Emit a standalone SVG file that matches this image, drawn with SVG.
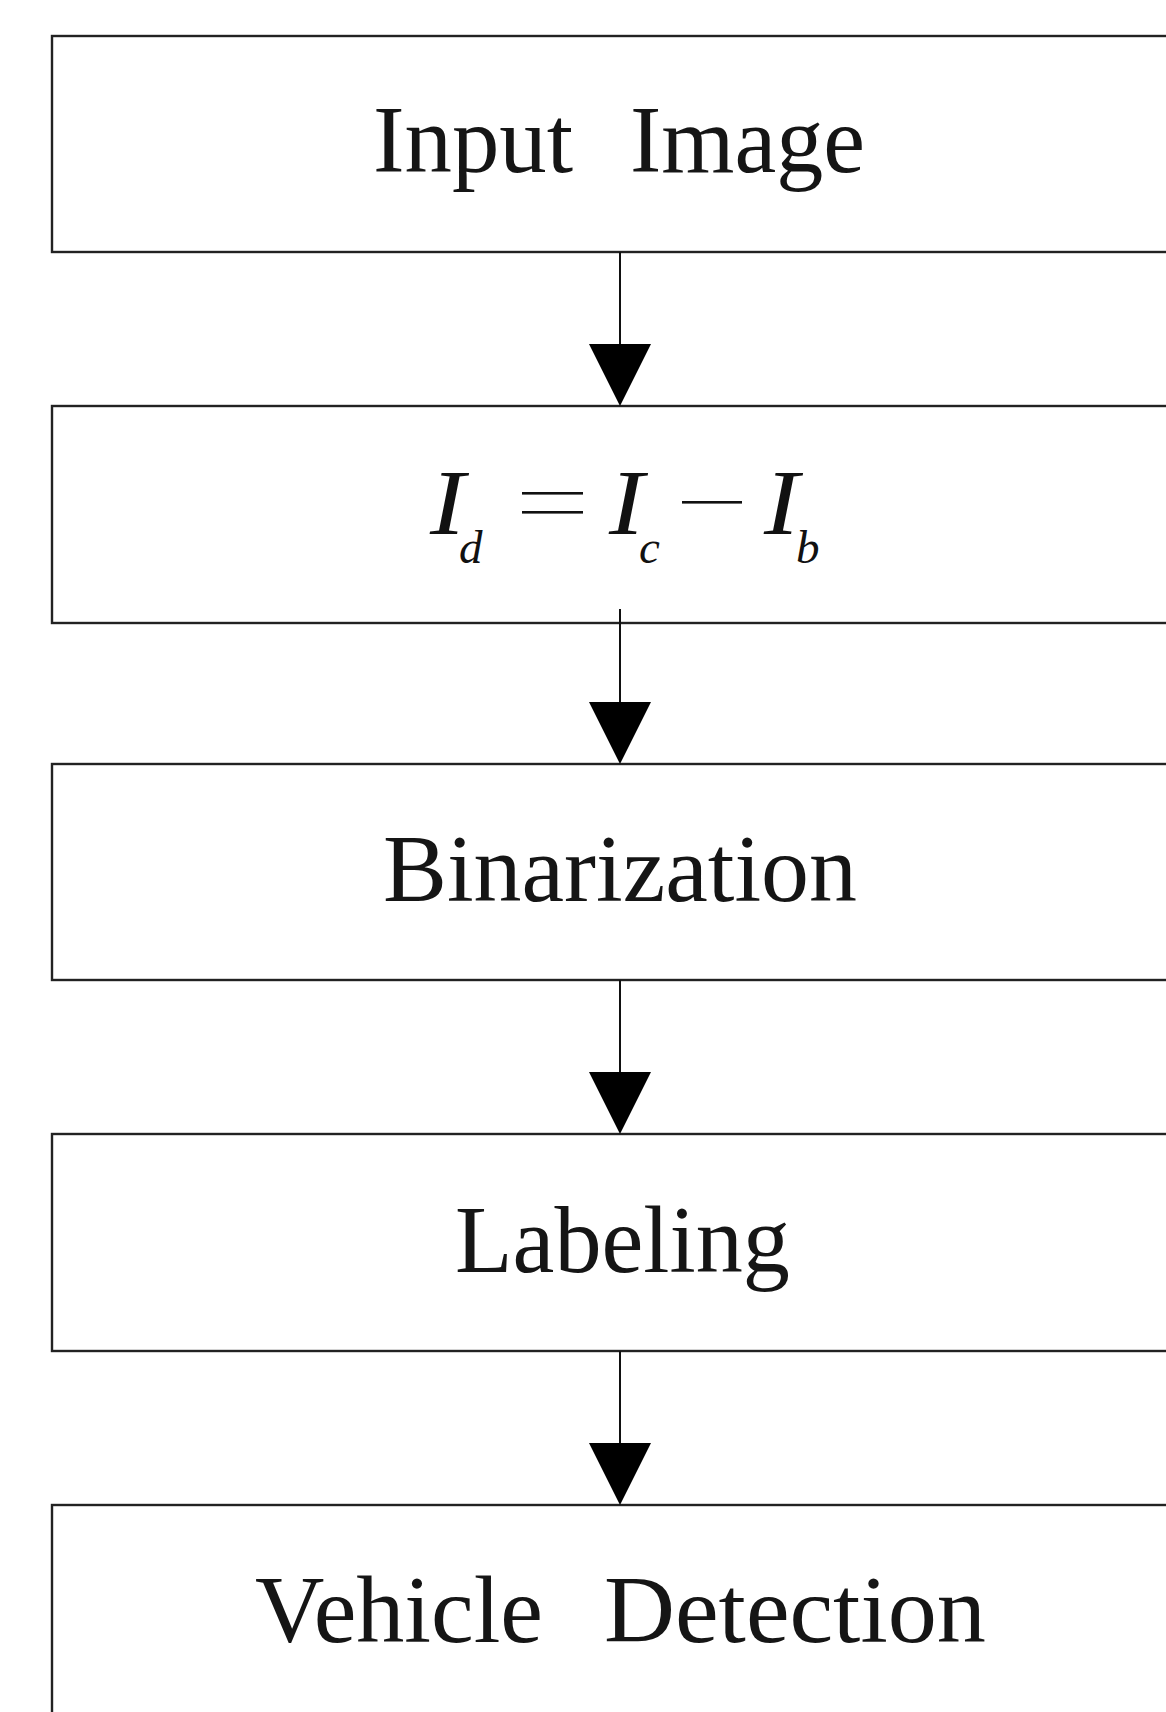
<svg xmlns="http://www.w3.org/2000/svg" width="1166" height="1712" viewBox="0 0 1166 1712">
  <style>
    .box { fill: #ffffff; stroke: #222222; stroke-width: 2.4; }
    .label { font-family: "Liberation Serif", "Times New Roman", serif; font-size: 96px; fill: #151515; }
    .math { font-family: "Liberation Serif", "Times New Roman", serif; font-style: italic; fill: #111111; }
    .wire { stroke: #111111; stroke-width: 2; fill: none; }
    .head { fill: #000000; }
  </style>
  <defs>
    <polygon id="arrowhead" class="head" points="-31,-62 31,-62 0,0"/>
  </defs>

  <rect x="0" y="0" width="1166" height="1712" fill="#ffffff"/>

  <g id="node-input">
    <rect class="box" x="52" y="36" width="1130" height="216"/>
    <text class="label" x="373" y="172" textLength="200" lengthAdjust="spacingAndGlyphs">Input</text>
    <text class="label" x="630" y="172" textLength="235" lengthAdjust="spacingAndGlyphs">Image</text>
  </g>

  <g id="node-difference">
    <rect class="box" x="52" y="406" width="1130" height="217"/>
    <text class="math" x="430" y="534" font-size="94" textLength="35" lengthAdjust="spacingAndGlyphs">I</text>
    <text class="math" x="459" y="563" font-size="47">d</text>
    <rect x="522" y="492" width="61" height="2.6" fill="#111111"/>
    <rect x="522" y="511" width="61" height="2.6" fill="#111111"/>
    <text class="math" x="609" y="534" font-size="94" textLength="35" lengthAdjust="spacingAndGlyphs">I</text>
    <text class="math" x="639" y="563" font-size="47">c</text>
    <rect x="682" y="501" width="60" height="2.6" fill="#111111"/>
    <text class="math" x="764" y="534" font-size="94" textLength="35" lengthAdjust="spacingAndGlyphs">I</text>
    <text class="math" x="796" y="563" font-size="47">b</text>
  </g>

  <g id="node-binarization">
    <rect class="box" x="52" y="764" width="1130" height="216"/>
    <text class="label" x="383" y="901" textLength="474" lengthAdjust="spacingAndGlyphs">Binarization</text>
  </g>

  <g id="node-labeling">
    <rect class="box" x="52" y="1134" width="1130" height="217"/>
    <text class="label" x="455" y="1272" textLength="335" lengthAdjust="spacingAndGlyphs">Labeling</text>
  </g>

  <g id="node-detection">
    <rect class="box" x="52" y="1505" width="1130" height="240"/>
    <text class="label" x="255" y="1642" textLength="288" lengthAdjust="spacingAndGlyphs">Vehicle</text>
    <text class="label" x="604" y="1642" textLength="382" lengthAdjust="spacingAndGlyphs">Detection</text>
  </g>

  <g id="connectors">
    <line class="wire" x1="620" y1="252" x2="620" y2="350"/>
    <use href="#arrowhead" x="620" y="406"/>
    <line class="wire" x1="620" y1="609" x2="620" y2="707"/>
    <use href="#arrowhead" x="620" y="764"/>
    <line class="wire" x1="620" y1="980" x2="620" y2="1078"/>
    <use href="#arrowhead" x="620" y="1134"/>
    <line class="wire" x1="620" y1="1351" x2="620" y2="1449"/>
    <use href="#arrowhead" x="620" y="1505"/>
  </g>
</svg>
